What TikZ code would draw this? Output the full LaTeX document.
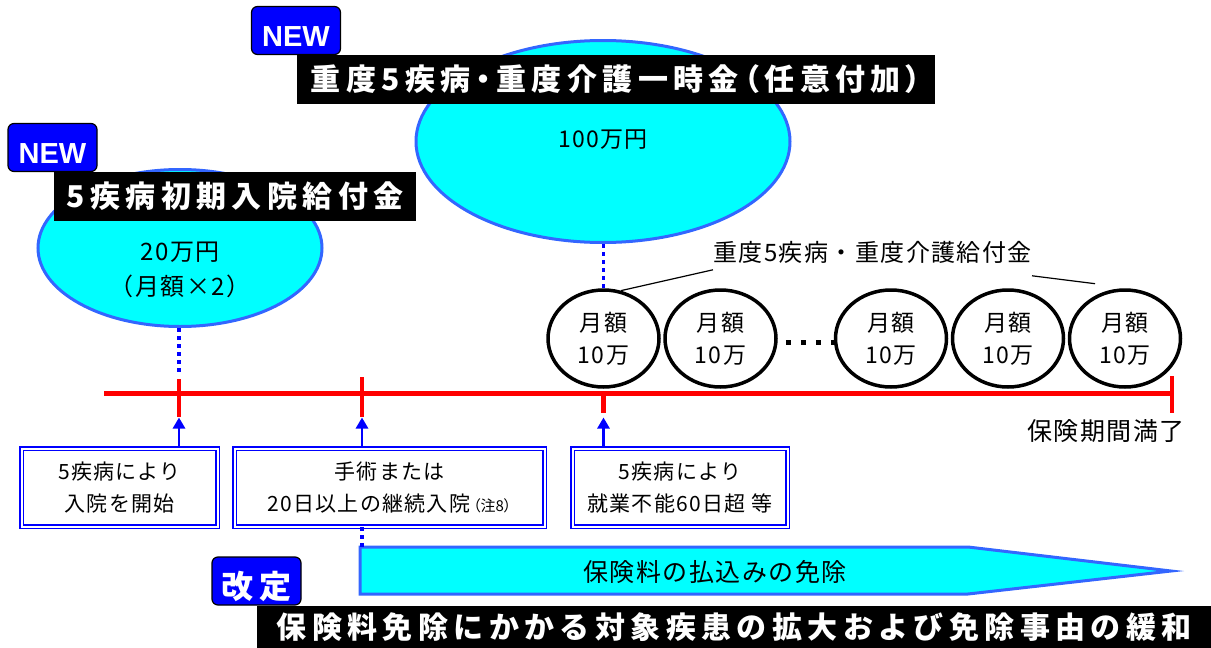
\documentclass[tikz,border=0pt]{standalone}
\usepackage{fontspec}
\setmainfont{Noto Sans CJK JP}[LetterSpace=6]
\newfontfamily\headfont[LetterSpace=18]{Noto Sans CJK JP}
\newfontfamily\headpfont[LetterSpace=18,RawFeature=+palt]{Noto Sans CJK JP}
\newfontfamily\notefont[RawFeature=+palt]{Noto Sans CJK JP}
\newfontfamily\tagfont{Liberation Sans}
\usetikzlibrary{arrows.meta,shapes.geometric}
\definecolor{ovalblue}{HTML}{3366FF}
\definecolor{tagblue}{HTML}{0000FF}
\definecolor{aqua}{HTML}{00FFFF}
\definecolor{tlred}{HTML}{FF0000}
\tikzset{
  oval/.style={ellipse, draw=ovalblue, line width=3pt, fill=aqua, inner sep=0pt},
  headbar/.style={fill=black, text=white, inner sep=0pt, minimum height=49, font=\headfont\bfseries\fontsize{30}{30}\selectfont},
  newtag/.style={draw=black, line width=1.2pt, fill=tagblue, rounded corners=6pt, minimum width=89, minimum height=48},
  tagtext/.style={text=white, inner sep=0pt, font=\tagfont\bfseries\fontsize{29}{29}\selectfont},
  dotline/.style={tagblue, line width=3.5pt, dash pattern=on 4pt off 4pt},
  timeline/.style={tlred, line width=5pt},
  tickmark/.style={tlred, line width=4.5pt},
  monthly/.style={ellipse, draw=black, line width=3.5pt, fill=white, minimum width=111, minimum height=97, inner sep=0pt, align=center, font=\fontsize{23}{32}\selectfont},
  eventbox/.style={draw=tagblue, double=white, line width=1.6pt, double distance=2pt, minimum height=78, align=center, font=\fontsize{21}{32}\selectfont},
  uparrow/.style={tagblue, line width=2.8pt, -{Triangle[width=12pt,length=11pt]}},
}
\begin{document}
\begin{tikzpicture}[x=1pt,y=-1pt]
  \useasboundingbox (0,0) rectangle (1211,648);
  \draw (603,141.5) node[oval, minimum width=374, minimum height=202] (bigoval) {};
  \draw (603,140) node[font=\fontsize{23}{23}\selectfont] (bigsum) {100万円};
  \draw (180,248) node[oval, minimum width=284, minimum height=157] (smalloval) {};
  \draw (180,269.5) node[align=center, font=\fontsize{24}{35}\selectfont] (smallsum) {20万円\\（月額×2）};
  \draw (616,79.5) node[headbar, minimum width=638, font=\headpfont\bfseries\fontsize{30}{30}\selectfont] (lumphead) {重度5疾病・重度介護一時金（任意付加）};
  \draw (235,196.5) node[headbar, minimum width=362] (inithead) {5疾病初期入院給付金};
  \draw (296,30.5) node[newtag] (lumpnew) {};
  \draw ([yshift=-6pt]lumpnew.center) node[tagtext] (lumpnewtext) {NEW};
  \draw (52.5,147.5) node[newtag] (initnew) {};
  \draw ([yshift=-6pt]initnew.center) node[tagtext] (initnewtext) {NEW};

  \coordinate (onset) at (179,393.5);
  \coordinate (surgery) at (362,393.5);
  \coordinate (disabled) at (603.5,393.5);
  \coordinate (expiry) at (1172,393.5);
  \draw[timeline] (104,393.5) -- (expiry);
  \draw[tickmark] (179,379) -- (179,417);
  \draw[tickmark] (362,377) -- (362,417);
  \draw[tickmark] (603.5,393.5) -- (603.5,413);
  \draw[tickmark] (1172,376) -- (1172,413);
  \draw[dotline] (onset |- smalloval.south) -- ([yshift=21pt]onset);

  \draw (603.5,338.5) node[monthly] (m1) {月額\\10万};
  \draw (720.5,338.5) node[monthly] (m2) {月額\\10万};
  \draw (891,338.5) node[monthly] (m3) {月額\\10万};
  \draw (1008,338.5) node[monthly] (m4) {月額\\10万};
  \draw (1125,338.5) node[monthly] (m5) {月額\\10万};
  \draw[line width=5pt, dash pattern=on 5pt off 10pt] ([shift={(8pt,-3.5pt)}]m2.east) -- ([yshift=-3.5pt]m3.west);
  \draw[dotline] (m1.north |- bigoval.south) -- (m1.north);
  \draw (872.5,252.5) node[inner sep=0pt, font=\fontsize{24}{24}\selectfont] (benefitlabel) {重度5疾病・重度介護給付金};
  \draw[line width=1.2pt] ([yshift=-6pt]benefitlabel.south west) -- (m1.70);
  \draw[line width=1.2pt] ([yshift=-12pt]benefitlabel.south east) -- ([yshift=12pt]m5.125);
  \draw (1106,431) node[font=\fontsize{25}{25}\selectfont] (expirylabel) {保険期間満了};

  \draw (119.5,487.5) node[eventbox, minimum width=196] (onsetbox) {5疾病により\\入院を開始};
  \draw (389.5,487.5) node[eventbox, minimum width=310] (surgerybox) {手術または\\20日以上の継続入院\hspace{3pt}{\notefont\fontsize{15}{15}\selectfont（注8）}};
  \draw (680,487.5) node[eventbox, minimum width=215] (disabledbox) {5疾病により\\就業不能60日超 等};
  \draw[uparrow] (onset |- onsetbox.north) -- ([yshift=-24pt]onset);
  \draw[uparrow] (surgery |- surgerybox.north) -- ([yshift=-24pt]surgery);
  \draw[uparrow] (disabled |- disabledbox.north) -- ([yshift=-24pt]disabled);

  \draw[draw=ovalblue, line width=3pt, fill=aqua] (360,547) coordinate (waivetop) -- (968,547) -- (1171,571) -- (968,594) -- (360,594) -- cycle;
  \draw[dotline] (surgery |- surgerybox.south) -- (surgery |- waivetop);
  \draw (715,572) node[font=\fontsize{25}{25}\selectfont] (waivetext) {保険料の払込みの免除};
  \draw (256.5,581) node[newtag] (revtag) {};
  \draw ([yshift=-5pt]revtag.center) node[tagtext, font=\headfont\bfseries\fontsize{32}{32}\selectfont] (revtagtext) {改定};
  \draw (257,606) node[headbar, anchor=north west, minimum width=954, minimum height=42] (revhead) {保険料免除にかかる対象疾患の拡大および免除事由の緩和};
  %\draw (1106,431) node[anchor=west]{};
\end{tikzpicture}
\end{document}
